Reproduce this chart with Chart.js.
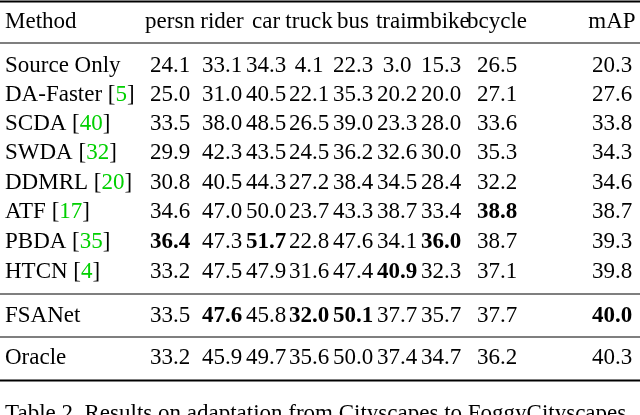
<!DOCTYPE html>
<html><head><meta charset="utf-8">
<script src="https://cdn.jsdelivr.net/npm/chart.js@4"></script>
<style>html,body{margin:0;padding:0;background:#fff}#w{width:640px;height:415px}</style>
</head><body><div id="w"><canvas id="c"></canvas></div>
<script>
const columns = ["persn","rider","car","truck","bus","train","mbike","bcycle","mAP"];
const methods = ["Source Only","DA-Faster","SCDA","SWDA","DDMRL","ATF","PBDA","HTCN","FSANet","Oracle"];
const citations = ["","5","40","32","20","17","35","4","",""];
const sourceOnly = [24.1,33.1,34.3,4.1,22.3,3.0,15.3,26.5,20.3];
const daFaster  = [25.0,31.0,40.5,22.1,35.3,20.2,20.0,27.1,27.6];
const scda      = [33.5,38.0,48.5,26.5,39.0,23.3,28.0,33.6,33.8];
const swda      = [29.9,42.3,43.5,24.5,36.2,32.6,30.0,35.3,34.3];
const ddmrl     = [30.8,40.5,44.3,27.2,38.4,34.5,28.4,32.2,34.6];
const atf       = [34.6,47.0,50.0,23.7,43.3,38.7,33.4,38.8,38.7];
const pbda      = [36.4,47.3,51.7,22.8,47.6,34.1,36.0,38.7,39.3];
const htcn      = [33.2,47.5,47.9,31.6,47.4,40.9,32.3,37.1,39.8];
const fsanet    = [33.5,47.6,45.8,32.0,50.1,37.7,35.7,37.7,40.0];
const oracle    = [33.2,45.9,49.7,35.6,50.0,37.4,34.7,36.2,40.3];
const values = [sourceOnly,daFaster,scda,swda,ddmrl,atf,pbda,htcn,fsanet,oracle];
const bold = {"5,7":1,"6,0":1,"6,2":1,"6,6":1,"7,5":1,"8,1":1,"8,3":1,"8,4":1,"8,8":1};
const caption = "Table 2. Results on adaptation from Cityscapes to FoggyCityscapes.";

// layout (pixel-space scale positions)
const colX = [170,222,266,309,353,397,441,497,612];
const rowY = [66,95,124,153,183,212,242,272,316,358];
const headerY = 22, ruleY = [1.5,43,294,337,380.5], ruleW=[2,1,1,1,2];

const pts=[];
values.forEach((r,i)=>r.forEach((v,j)=>pts.push({x:colX[j],y:rowY[i],v,i,j})));
const FONT='23px "Liberation Serif"', BFONT='bold 23px "Liberation Serif"';
const tablePlugin={id:'tbl',afterDatasetsDraw(ch){
  const c=ch.ctx, xs=ch.scales.x, ys=ch.scales.y;
  c.save(); c.fillStyle='#000'; c.textBaseline='middle';
  ruleY.forEach((y,k)=>{c.fillRect(xs.getPixelForValue(0),ys.getPixelForValue(y)-ruleW[k]/2,xs.getPixelForValue(640),ruleW[k]);});
  c.font=FONT; c.textAlign='left';
  c.fillText("Method",xs.getPixelForValue(5),ys.getPixelForValue(headerY));
  c.textAlign='center';
  columns.forEach((t,j)=>c.fillText(t,xs.getPixelForValue(colX[j]),ys.getPixelForValue(headerY)));
  methods.forEach((m,i)=>{
    let x=xs.getPixelForValue(5), y=ys.getPixelForValue(rowY[i]);
    c.textAlign='left'; c.fillStyle='#000';
    if(citations[i]){
      const a=m+" [";c.fillText(a,x,y);x+=c.measureText(a).width;
      c.fillStyle='#00d000';c.fillText(citations[i],x,y);x+=c.measureText(citations[i]).width;
      c.fillStyle='#000';c.fillText("]",x,y);
    } else c.fillText(m,x,y);
  });
  c.textAlign='center';
  ch.getDatasetMeta(0).data.forEach((el,k)=>{const p=pts[k];
    c.font=bold[p.i+","+p.j]?BFONT:FONT; c.fillText(p.v.toFixed(1),el.x,el.y);});
  c.font=FONT;c.textAlign='left';c.fillStyle='#000';
  c.fillText(caption,xs.getPixelForValue(5),ys.getPixelForValue(414));
  c.restore();
}};
new Chart(document.getElementById('c'),{type:'scatter',
 data:{datasets:[{data:pts,pointRadius:0,pointHoverRadius:0}]},
 options:{responsive:true,maintainAspectRatio:false,animation:false,events:[],
  layout:{padding:0},
  plugins:{legend:{display:false},tooltip:{enabled:false}},
  scales:{x:{type:'linear',min:0,max:640,display:false},
          y:{type:'linear',min:0,max:415,reverse:true,display:false}}},
 plugins:[tablePlugin]});
</script></body></html>
